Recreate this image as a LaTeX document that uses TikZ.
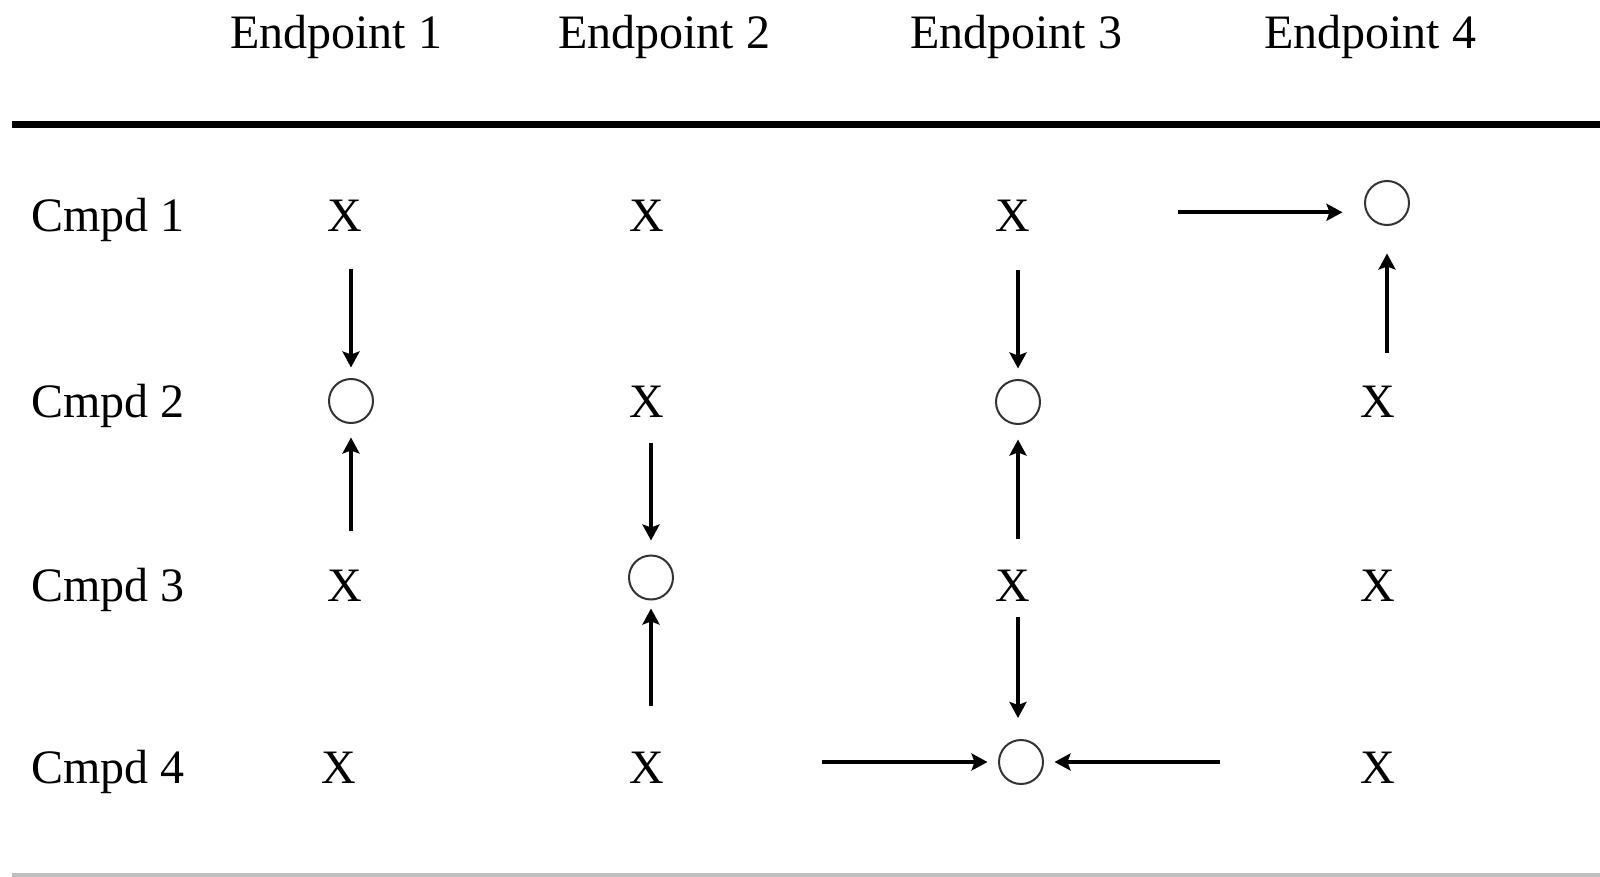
\documentclass[tikz,border=0pt]{standalone}
\usepackage{fontspec}
\setmainfont{Liberation Serif}
\usetikzlibrary{arrows.meta}
\begin{document}
\begin{tikzpicture}[x=1pt,y=-1pt,
  lbl/.style={anchor=base, inner sep=0pt, font=\fontsize{48}{58}\selectfont},
  rowlbl/.style={anchor=base west, inner sep=0pt, font=\fontsize{48}{58}\selectfont},
  hit/.style={circle, draw=black!80, line width=2pt, minimum size=44pt, inner sep=0pt},
  arr/.style={line width=4pt, -{Stealth[length=16pt,width=17pt,inset=3pt]}},
  toprule/.style={line width=7pt, black},
  botrule/.style={line width=4pt, black!25}]
\fill[white] (0,0) rectangle (1600,877);
\useasboundingbox (0,0) rectangle (1600,877);
% headers
\node[lbl] (h1) at (336,48.3) {Endpoint 1};
\node[lbl] (h2) at (664,48.3) {Endpoint 2};
\node[lbl] (h3) at (1016,48.3) {Endpoint 3};
\node[lbl] (h4) at (1370,48.3) {Endpoint 4};
\draw[toprule] (12,125) -- (1600,125);
\draw[botrule] (12,875) -- (1600,875);
% row labels
\node[rowlbl] (r1) at (31,232) {Cmpd 1};
\node[rowlbl] (r2) at (31,417) {Cmpd 2};
\node[rowlbl] (r3) at (31,601) {Cmpd 3};
\node[rowlbl] (r4) at (31,783) {Cmpd 4};
% X marks
\node[lbl] (x11) at (345,232) {X};
\node[lbl] (x12) at (647,232) {X};
\node[lbl] (x13) at (1013,232) {X};
\node[lbl] (x22) at (647,417) {X};
\node[lbl] (x24) at (1377.5,417) {X};
\node[lbl] (x31) at (345,601) {X};
\node[lbl] (x33) at (1013,601) {X};
\node[lbl] (x34) at (1377.5,601) {X};
\node[lbl] (x41) at (339,783) {X};
\node[lbl] (x42) at (647,783) {X};
\node[lbl] (x44) at (1377.5,783) {X};
% circles
\node[hit] (c21) at (351,401) {};
\node[hit] (c32) at (651,577.5) {};
\node[hit] (c23) at (1018,402) {};
\node[hit] (c43) at (1021,762) {};
\node[hit] (c14) at (1387,203) {};
% arrows
\draw[arr, shorten <=37pt, shorten >=10.5pt] (x11.south -| c21) -- (c21.north);
\draw[arr, shorten <=38.2pt, shorten >=13.5pt] (x31.north -| c21) -- (c21.south);
\draw[arr, shorten <=26pt, shorten >=14pt] (x22.south -| c32) -- (c32.north);
\draw[arr, shorten <=45.2pt, shorten >=8pt] (x42.north -| c32) -- (c32.south);
\draw[arr, shorten <=38pt, shorten >=10.5pt] (x13.south -| c23) -- (c23.north);
\draw[arr, shorten <=30.2pt, shorten >=14.5pt] (x33.north -| c23) -- (c23.south);
\draw[arr, shorten <=16pt, shorten >=21pt] (x33.south -| c23) -- (c23 |- c43.north);
\draw[arr, shorten <=157.7pt, shorten >=10.5pt] (x42.east |- c43) -- (c43.west);
\draw[arr, shorten <=140.2pt, shorten >=10.5pt] (x44.west |- c43) -- (c43.east);
\draw[arr, shorten <=147.7pt, shorten >=21.5pt] ([yshift=4pt]x13.east) -- ([yshift=4pt]c14.west |- x13.east);
\draw[arr, shorten <=32.2pt, shorten >=27.5pt] (x24.north -| c14) -- (c14.south);
\end{tikzpicture}
\end{document}
